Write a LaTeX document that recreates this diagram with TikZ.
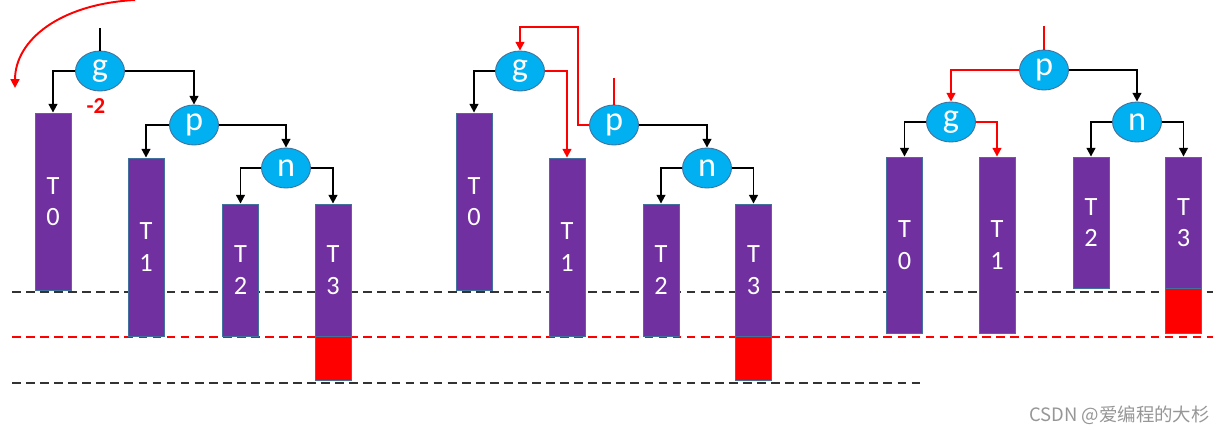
\documentclass[tikz,border=0pt]{standalone}
\usepackage{fontspec}
\setmainfont{Carlito}
\newfontfamily\cjk{Noto Sans CJK SC}
\usetikzlibrary{shapes.geometric,arrows.meta}
\definecolor{nodeblue}{RGB}{0,176,240}
\definecolor{nodeedge}{RGB}{65,113,156}
\definecolor{barpurple}{RGB}{112,48,160}
\definecolor{wm}{RGB}{150,150,150}
\tikzset{
  tnode/.style={ellipse,fill=nodeblue,draw=nodeedge,line width=0.5pt,minimum width=0.98cm,minimum height=0.8cm,inner sep=0pt,text=white,font=\fontsize{19.5}{20}\selectfont},
  bar/.style={rectangle,fill=barpurple,draw=nodeedge,line width=0.5pt,minimum width=0.72cm,inner sep=0pt,text=white,align=center,font=\fontsize{15}{18}\selectfont},
  hbox/.style={rectangle,fill=red,draw=nodeedge,line width=0.5pt,minimum width=0.72cm,inner sep=0pt},
  conn/.style={line width=1.1pt,-{Triangle[length=5pt,width=5pt]}},
  blk/.style={conn,black},
  rd/.style={conn,red},
  lvl/.style={dashed,line width=1.1pt,dash pattern=on 5pt off 3pt},
}
\begin{document}
\begin{tikzpicture}[x=0.02cm,y=-0.02cm]
\useasboundingbox (0,0) rectangle (1231,434);
% level lines
\coordinate (l1a) at (12,292); \coordinate (l1b) at (1213,292);
\coordinate (l2a) at (12,337); \coordinate (l2b) at (1213,337);
\coordinate (l3a) at (12,383); \coordinate (l3b) at (920,383);
\draw[lvl,black!80] (l1a) -- (l1b);
\draw[lvl,red] (l2a) -- (l2b);
\draw[lvl,black!80] (l3a) -- (l3b);

% ---------- panel 1 ----------
\node[tnode] (g1) at (100,71) {g};
\node[tnode] (p1) at (194,125) {p};
\node[tnode] (n1) at (286,168) {n};
\node[bar,minimum height=3.54cm] (a0) at (53,201.5) {T\\0};
\node[bar,minimum height=3.56cm] (a1) at (146,247) {T\\1};
\node[bar,minimum height=2.64cm] (a2) at (240.5,270) {T\\2};
\node[bar,minimum height=2.64cm] (a3) at (333,270) {T\\3};
\node[hbox,minimum height=0.88cm] (ar) at (333,358) {};
\node[text=red,font=\bfseries\fontsize{13}{14}\selectfont] (m2) at (96,106) {-2};
\coordinate (top1) at (100,28);
\draw[line width=1.1pt] (top1) -- (g1.north);
\draw[blk] (g1.west) -| (a0.north);
\draw[blk] (g1.east) -| (p1.north);
\draw[blk] (p1.west) -| (a1.north);
\draw[blk] (p1.east) -| (n1.north);
\draw[blk] (n1.west) -| (a2.north);
\draw[blk] (n1.east) -| (a3.north);
\coordinate (rs) at (135,0);
\coordinate (re) at (15,88);
\draw[rd] (rs) .. controls (60,4) and (15,40) .. (re);

% ---------- panel 2 ----------
\node[tnode] (g2) at (520,71) {g};
\node[tnode] (p2) at (614,125) {p};
\node[tnode] (n2) at (707,168) {n};
\node[bar,minimum height=3.54cm] (b0) at (474,201.5) {T\\0};
\node[bar,minimum height=3.56cm] (b1) at (567,247) {T\\1};
\node[bar,minimum height=2.64cm] (b2) at (661,270) {T\\2};
\node[bar,minimum height=2.64cm] (b3) at (753.5,270) {T\\3};
\node[hbox,minimum height=0.88cm] (br) at (753.5,358) {};
\coordinate (top2) at (614,78);
\coordinate (c2) at (578,27);
\draw[line width=1.1pt,red] (top2) -- (p2.north);
\draw[rd] (p2.west) -| (c2) -| (g2.north);
\draw[blk] (g2.west) -| (b0.north);
\draw[rd] (g2.east) -| (b1.north);
\draw[blk] (p2.east) -| (n2.north);
\draw[blk] (n2.west) -| (b2.north);
\draw[blk] (n2.east) -| (b3.north);

% ---------- panel 3 ----------
\node[tnode] (p3) at (1044,70) {p};
\node[tnode] (g3) at (951,122) {g};
\node[tnode] (n3) at (1137,122) {n};
\node[bar,minimum height=3.52cm] (c0) at (904.5,245) {T\\0};
\node[bar,minimum height=3.52cm] (c1) at (997,245) {T\\1};
\node[bar,minimum height=2.62cm] (c2b) at (1091,222.5) {T\\2};
\node[bar,minimum height=2.62cm] (c3) at (1183.5,222.5) {T\\3};
\node[hbox,minimum height=0.9cm] (cr) at (1183.5,310.5) {};
\coordinate (top3) at (1044,26);
\draw[line width=1.1pt,red] (top3) -- (p3.north);
\draw[rd] (p3.west) -| (g3.north);
\draw[blk] (p3.east) -| (n3.north);
\draw[blk] (g3.west) -| (c0.north);
\draw[rd] (g3.east) -| (c1.north);
\draw[blk] (n3.west) -| (c2b.north);
\draw[blk] (n3.east) -| (c3.north);

% watermark
\node[text=wm,font=\cjk\fontsize{10.5}{12}\selectfont,anchor=east] (wmk) at (1216,415) {CSDN @爱编程的大杉};
\end{tikzpicture}
\end{document}
